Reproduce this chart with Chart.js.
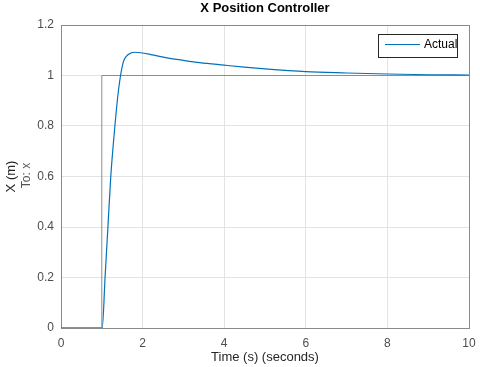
<!DOCTYPE html>
<html>
<head>
<meta charset="utf-8">
<script src="https://cdn.jsdelivr.net/npm/chart.js@4"></script>
<style>
  html, body { margin: 0; padding: 0; background: #fff; }
  #wrap { width: 480px; height: 367px; position: relative; }
</style>
</head>
<body>
<div id="wrap"><canvas id="posChart"></canvas></div>
<script>
// Datos
const chartTitle = 'X Position Controller';
const xTitle = 'Time (s) (seconds)';
const yTitle = 'X (m)';
const ySubTitle = 'To: x';

// Respuesta "Actual"
const actualTime  = [0, 1.0, 1.01, 1.08, 1.15, 1.22, 1.31, 1.38, 1.45, 1.53, 1.60, 1.70, 1.81, 1.95, 2.2, 2.6, 3.0, 3.4, 4.0, 4.5, 5.0, 6.0, 7.0, 8.0, 9.0, 10.0];
const actualValue = [0, 0,   0,    0.20, 0.40, 0.60, 0.78, 0.90, 0.99, 1.055, 1.076, 1.088, 1.092, 1.090, 1.083, 1.070, 1.060, 1.051, 1.041, 1.033, 1.026, 1.015, 1.010, 1.006, 1.003, 1.002];

// Referencia (escalon)
const refTime  = [0, 1, 1, 10];
const refValue = [0, 0, 1, 1];

const xTicks = [0, 2, 4, 6, 8, 10];
const yTicks = [0, 0.2, 0.4, 0.6, 0.8, 1, 1.2];

const toPoints = (xs, ys) => xs.map((x, i) => ({ x: x, y: ys[i] }));

// Plugin: titulos, caja de ejes y leyenda estilo MATLAB
const matlabDeco = {
    id: 'matlabDeco',
    beforeDatasetsDraw(chart) {
        const { ctx, chartArea: a } = chart;
        ctx.save();
        ctx.strokeStyle = '#8a8a8a';
        ctx.lineWidth = 1;
        ctx.strokeRect(Math.round(a.left) + 0.5, Math.round(a.top) + 0.5,
                       Math.round(a.right - a.left), Math.round(a.bottom - a.top));
        ctx.restore();
    },
    afterDraw(chart) {
        const { ctx, chartArea: a } = chart;
        const cx = (a.left + a.right) / 2;
        const cy = (a.top + a.bottom) / 2;
        ctx.save();
        ctx.textAlign = 'center';
        ctx.textBaseline = 'middle';

        // titulo
        ctx.fillStyle = '#000';
        ctx.font = 'bold 13px "Liberation Sans", Arial, sans-serif';
        ctx.fillText(chartTitle, cx, 8);

        // titulo eje x
        ctx.fillStyle = '#262626';
        ctx.font = '13px "Liberation Sans", Arial, sans-serif';
        ctx.fillText(xTitle, cx, 357);

        // titulos eje y (rotados)
        ctx.save();
        ctx.translate(11, cy);
        ctx.rotate(-Math.PI / 2);
        ctx.fillText(yTitle, 0, 0);
        ctx.restore();

        ctx.save();
        ctx.translate(27, cy - 1);
        ctx.rotate(-Math.PI / 2);
        ctx.fillStyle = '#555';
        ctx.font = '12px "Liberation Sans", Arial, sans-serif';
        ctx.fillText(ySubTitle, 0, 0);
        ctx.restore();

        // leyenda
        const ds = chart.data.datasets[0];
        const bx = 378.5, by = 34.5, bw = 79, bh = 23;
        ctx.fillStyle = '#fff';
        ctx.fillRect(bx, by, bw, bh);
        ctx.strokeStyle = '#262626';
        ctx.lineWidth = 1;
        ctx.strokeRect(bx, by, bw, bh);
        ctx.strokeStyle = ds.borderColor;
        ctx.beginPath();
        ctx.moveTo(385, 44.5);
        ctx.lineTo(420, 44.5);
        ctx.stroke();
        ctx.fillStyle = '#000';
        ctx.textAlign = 'left';
        ctx.font = '12px "Liberation Sans", Arial, sans-serif';
        ctx.fillText(ds.label, 424, 45);
        ctx.restore();
    }
};

const ctx = document.getElementById('posChart').getContext('2d');
const posChart = new Chart(ctx, {
    type: 'line',
    data: {
        datasets: [{
            label: 'Actual',
            data: toPoints(actualTime, actualValue),
            borderColor: '#0072BD',
            borderWidth: 1.2,
            pointRadius: 0,
            cubicInterpolationMode: 'monotone',
            fill: false
        }, {
            label: 'Reference',
            data: toPoints(refTime, refValue),
            borderColor: '#8c8c8c',
            borderWidth: 1,
            pointRadius: 0,
            tension: 0,
            fill: false
        }]
    },
    options: {
        responsive: true,
        maintainAspectRatio: false,
        animation: false,
        layout: { padding: { left: 0, top: 25, right: 11, bottom: 0 } },
        plugins: {
            legend: { display: false },
            tooltip: { enabled: false }
        },
        scales: {
            x: {
                type: 'linear',
                min: 0,
                max: 10,
                afterBuildTicks: s => { s.ticks = xTicks.map(v => ({ value: v })); },
                afterFit: s => { s.height = 39; s.paddingLeft = 0; s.paddingRight = 0; },
                grid: { color: '#e3e3e3', drawTicks: false },
                border: { display: false },
                ticks: {
                    padding: 8,
                    color: '#4d4d4d',
                    font: { family: '"Liberation Sans", Arial, sans-serif', size: 12 },
                    maxRotation: 0
                }
            },
            y: {
                min: 0,
                max: 1.2,
                afterBuildTicks: s => { s.ticks = yTicks.map(v => ({ value: v })); },
                afterFit: s => { s.width = 61; s.paddingTop = 0; s.paddingBottom = 0; },
                grid: { color: '#e3e3e3', drawTicks: false },
                border: { display: false },
                ticks: {
                    padding: 7,
                    color: '#4d4d4d',
                    font: { family: '"Liberation Sans", Arial, sans-serif', size: 12 },
                    callback: v => String(Math.round(v * 10) / 10)
                }
            }
        }
    },
    plugins: [matlabDeco]
});
</script>
</body>
</html>
